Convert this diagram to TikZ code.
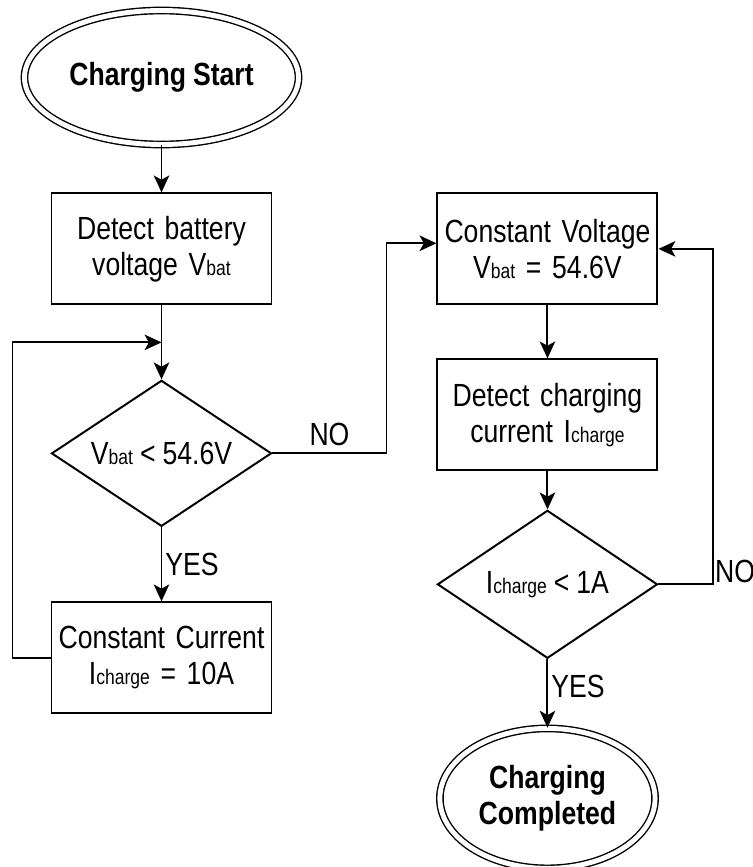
\documentclass[tikz,border=0pt]{standalone}
\usepackage{fontspec}
\setmainfont{Liberation Sans}[FakeStretch=0.83]
\usepackage{tikz}
\usetikzlibrary{shapes.geometric, arrows.meta, positioning}

\newcommand{\subtxt}[1]{{\fontsize{15}{15}\selectfont #1}}
\newcommand{\tightspace}{\spaceskip=5pt plus 2pt minus 1pt\relax}

\begin{document}
\begin{tikzpicture}[
    font=\fontsize{22.8}{25.6}\selectfont\tightspace,
    box/.style={rectangle, draw, line width=1.4pt, minimum width=5.5cm, minimum height=2.775cm, inner sep=0.05cm, text width=5.3cm, align=center},
    decision/.style={diamond, draw, line width=1.4pt, aspect=1.5, minimum width=5.5cm, minimum height=3.65cm, inner sep=0pt, align=center},
    terminal/.style={ellipse, draw, line width=1pt, double, double distance=3.5pt, align=center, font=\fontsize{22.8}{25.6}\selectfont\bfseries\tightspace},
    arrow/.style={-{Stealth[length=12pt, width=11pt, inset=3pt]}, line width=1.4pt}
]
    \useasboundingbox (-4.0375,1.9375) rectangle (14.7875,-19.7375);

    % CC stage
    \node[terminal, minimum width=5.35cm, minimum height=3.35cm] (start) {Charging Start};
    \node[box, below=1.18cm of start] (detect) {Detect battery\\voltage V\subtxt{bat}};
    \node[decision, below=1.85cm of detect] (vcheck) {V\subtxt{bat} < 54.6V};
    \node[box, below=1.85cm of vcheck] (cc) {Constant Current\\I\subtxt{charge} = 10A};

    % CV stage
    \node[box, right=4.1cm of detect] (cv) {Constant Voltage\\V\subtxt{bat} = 54.6V};
    \node[box, below=1.325cm of cv] (detectcur) {Detect charging\\current I\subtxt{charge}};
    \node[decision, minimum height=3.7cm, below=0.95cm of detectcur] (icheck) {I\subtxt{charge} < 1A};
    \node[terminal, minimum width=5.38cm, minimum height=3.5cm, below=1.71cm of icheck] (done) {Charging\\Completed};

    % Bends
    \coordinate[below=0.925cm of detect.south] (join);
    \coordinate[left=0.95cm of cc.west] (ccleft);
    \coordinate[right=2.85cm of vcheck.east] (nobend);
    \coordinate[right=1.375cm of icheck.east] (nobendb);

    % Arrows
    \draw[arrow] (start) -- (detect);
    \draw[arrow] (detect) -- (vcheck);
    \draw[arrow] (vcheck) -- node[right, inner sep=2pt] {YES} (cc);
    \draw[arrow] (cc.west) -- (ccleft) |- (join);
    \draw[arrow] (vcheck.east) -- node[above, inner sep=5pt] {NO} (nobend) |- ([yshift=0.14cm]cv.west);
    \draw[arrow] (cv) -- (detectcur);
    \draw[arrow] (detectcur) -- (icheck);
    \draw[arrow] (icheck) -- node[right, pos=0.4, inner sep=2pt] {YES} (done);
    \draw[arrow] (icheck.east) -- (nobendb) node[anchor=south west, inner sep=0.5pt] {NO} |- (cv.east);
\end{tikzpicture}
\end{document}
